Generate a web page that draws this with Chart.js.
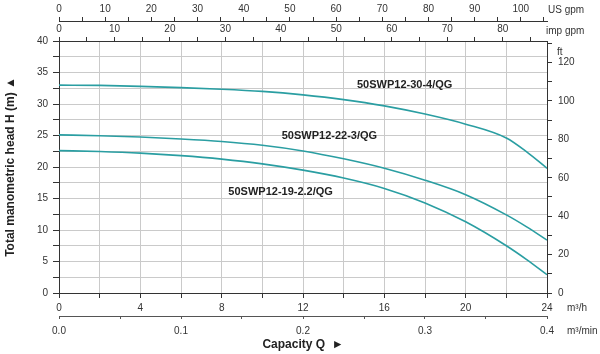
<!DOCTYPE html>
<html>
<head>
<meta charset="utf-8">
<script src="https://cdn.jsdelivr.net/npm/chart.js@4"></script>
<style>
  html, body { margin: 0; padding: 0; background: #fff; }
  canvas { display: block; }
</style>
</head>
<body>
<canvas id="pumpchart" width="600" height="354"></canvas>
<script>
var ctx = document.getElementById("pumpchart");

// capacity in m3/h and head in m
let flow = [0, 2, 4, 6, 8, 10, 12, 14, 16, 18, 20, 22, 23, 24];
let head30 = [33.0, 32.95, 32.8, 32.6, 32.35, 32.0, 31.45, 30.7, 29.7, 28.4, 26.8, 24.6, 22.4, 19.8];
let head22 = [25.1, 24.95, 24.75, 24.45, 24.05, 23.45, 22.55, 21.3, 19.8, 17.9, 15.6, 12.4, 10.5, 8.4];
let head19 = [22.6, 22.45, 22.2, 21.8, 21.25, 20.5, 19.5, 18.25, 16.6, 14.3, 11.3, 7.5, 5.3, 2.9];
let models = ["50SWP12-30-4/QG", "50SWP12-22-3/QG", "50SWP12-19-2.2/QG"];
// where each model name sits (m3/h, m)
let labelQ = [17.0, 13.3, 10.9];
let labelH = [33.0, 24.9, 16.0];

const FONT = "'Liberation Sans', Arial, 'DejaVu Sans', sans-serif";
const TEXT = "#333";
const LINE = "#2a9ea2";

function pts(h) {
    return flow.map((q, i) => ({x: q, y: h[i]}));
}
function isMult(v, m) {
    return Math.abs(v / m - Math.round(v / m)) < 1e-6;
}

const tickFont = {family: FONT, size: 10};

const extraText = {
    id: "extraText",
    afterDraw(chart) {
        const c = chart.ctx;
        const sx = chart.scales.x, sy = chart.scales.y;
        const a = chart.chartArea;
        c.save();
        c.fillStyle = "#222";
        c.font = "bold 11px " + FONT;
        c.textAlign = "center";
        c.textBaseline = "middle";
        models.forEach((m, i) => {
            c.fillText(m, sx.getPixelForValue(labelQ[i]), sy.getPixelForValue(labelH[i]));
        });
        c.fillStyle = TEXT;
        c.font = "10px " + FONT;
        c.textAlign = "left";
        c.fillText("US gpm", a.right + 1, 10);
        c.fillText("imp gpm", a.right - 1, 31);
        c.fillText("ft", a.right + 10, 52);
        c.fillText("m\u00B3/h", a.right + 20, 308);
        c.fillText("m\u00B3/min", a.right + 20, 331);
        c.restore();
    }
};

var chart = new Chart(ctx, {
    type: "line",
    data: {
        datasets: [
            {label: models[0], data: pts(head30)},
            {label: models[1], data: pts(head22)},
            {label: models[2], data: pts(head19)}
        ].map(d => Object.assign(d, {
            borderColor: LINE,
            backgroundColor: LINE,
            borderWidth: 1.6,
            pointRadius: 0,
            cubicInterpolationMode: "monotone",
            xAxisID: "x",
            yAxisID: "y"
        }))
    },
    options: {
        responsive: false,
        animation: false,
        layout: {padding: 0},
        plugins: {legend: {display: false}, tooltip: {enabled: false}},
        scales: {
            x: {
                type: "linear", position: "bottom", weight: 0, min: 0, max: 24,
                ticks: {stepSize: 2, autoSkip: false, maxRotation: 0, padding: 4, color: TEXT, font: tickFont,
                        callback: v => isMult(v, 4) ? String(v) : ""},
                grid: {color: "#cacaca", tickColor: "#333", tickLength: 5},
                border: {color: "#333"},
                afterFit: s => { s.height = 23; }
            },
            xmin: {
                type: "linear", position: "bottom", weight: 1, min: 0, max: 0.4,
                ticks: {stepSize: 0.05, autoSkip: false, maxRotation: 0, padding: 6, color: TEXT, font: tickFont,
                        includeBounds: false,
                        callback: v => isMult(v, 0.1) ? v.toFixed(1) : ""},
                grid: {drawOnChartArea: false, tickColor: "#555", tickLength: 3},
                border: {color: "#555"},
                title: {display: true, text: "Capacity Q  \u25BA", color: "#222",
                        font: {family: FONT, size: 12, weight: "bold"}, padding: {top: 0, bottom: 2}},
                afterFit: s => { s.height = 38; }
            },
            imp: {
                type: "linear", position: "top", weight: 0, min: 0, max: 24 * 3.66615,
                ticks: {stepSize: 5, autoSkip: false, maxRotation: 0, padding: 2, color: TEXT, font: tickFont,
                        includeBounds: false,
                        callback: v => isMult(v, 10) ? String(v) : ""},
                grid: {drawOnChartArea: false, tickColor: "#333", tickLength: 4},
                border: {color: "#333"},
                afterFit: s => { s.height = 20; }
            },
            us: {
                type: "linear", position: "top", weight: 1, min: 0, max: 24 * 4.40287,
                ticks: {stepSize: 5, autoSkip: false, maxRotation: 0, padding: 2, color: TEXT, font: tickFont,
                        includeBounds: false,
                        callback: v => isMult(v, 10) ? String(v) : ""},
                grid: {drawOnChartArea: false, tickColor: "#333", tickLength: 4},
                border: {color: "#333"},
                afterFit: s => { s.height = 21; }
            },
            y: {
                type: "linear", position: "left", min: 0, max: 40,
                ticks: {stepSize: 2.5, autoSkip: false, padding: 5, color: TEXT, font: tickFont,
                        callback: v => isMult(v, 5) ? String(v) : ""},
                grid: {color: "#cacaca", tickColor: "#333", tickLength: 6},
                border: {color: "#333"},
                title: {display: true, text: "Total manometric head H (m) \u25B2", color: "#222",
                        font: {family: FONT, size: 12, weight: "bold"}, padding: {top: 3, bottom: 0}},
                afterFit: s => { s.width = 59; }
            },
            ft: {
                type: "linear", position: "right", min: 0, max: 40 * 3.28084,
                ticks: {stepSize: 10, autoSkip: false, padding: 6, color: TEXT, font: tickFont,
                        includeBounds: false,
                        callback: v => isMult(v, 20) ? String(v) : ""},
                grid: {drawOnChartArea: false, tickColor: "#333", tickLength: 5},
                border: {color: "#333"},
                afterFit: s => { s.width = 53; }
            }
        }
    },
    plugins: [extraText]
});
</script>
</body>
</html>
